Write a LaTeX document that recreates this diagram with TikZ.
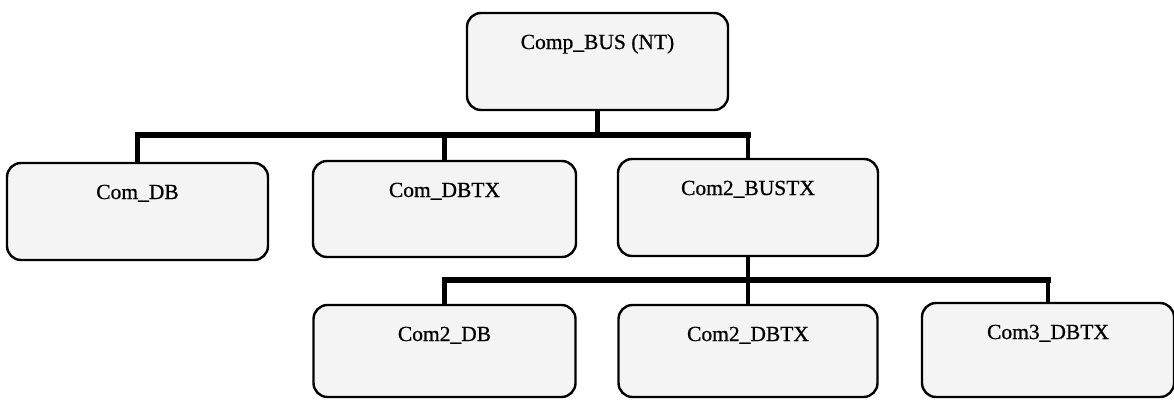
\documentclass[tikz,border=0pt]{standalone}
\usepackage{fontspec}
\setmainfont{Liberation Serif}[FakeBold=0.7]
\definecolor{boxfill}{gray}{0.955}
\tikzset{
  unitbox/.style={draw=black, line width=2.4pt, rounded corners=14pt, fill=boxfill,
    inner sep=0pt, text height=36pt, font=\fontsize{21.5}{24}\selectfont},
  busline/.style={line width=6pt, black},
  stemline/.style={line width=4.4pt, black}
}
\begin{document}
\begin{tikzpicture}[x=1pt, y=-1pt]
  \useasboundingbox[fill=white] (0,0) rectangle (1174,399);

  % levels of the tree
  \node[unitbox, minimum width=261pt, text depth=61pt] (root) at (597.5,61.5) {Comp\_BUS (NT)};

  \node[unitbox, minimum width=261pt, text depth=61pt] (comdb)   at (137.5,211.5) {Com\_DB};
  \node[unitbox, minimum width=263pt, text depth=60pt] (comdbtx) at (444.5,209)   {Com\_DBTX};
  \node[unitbox, minimum width=260pt, text depth=61pt] (bustx)   at (748,207.5)   {Com2\_BUSTX};

  \node[unitbox, minimum width=262pt, text depth=56pt] (db2)    at (444.5,351) {Com2\_DB};
  \node[unitbox, minimum width=259pt, text depth=56pt] (dbtx2)  at (748,351)   {Com2\_DBTX};
  \node[unitbox, minimum width=252pt, text depth=58pt] (dbtx3)  at (1048,350)  {Com3\_DBTX};

  % bus heights
  \coordinate (busA) at (0,135);
  \coordinate (busB) at (0,280);

  % upper bus
  \draw[busline] ([xshift=-2.5pt]comdb.north |- busA) -- ([xshift=2.5pt]bustx.north |- busA);
  \draw[stemline] (root.south) -- (root.south |- busA);
  \draw[stemline] (comdb.north) -- (comdb.north |- busA);
  \draw[stemline] (comdbtx.north) -- (comdbtx.north |- busA);
  \draw[stemline] (bustx.north) -- (bustx.north |- busA);

  % lower bus
  \draw[busline] ([xshift=-2.5pt]db2.north |- busB) -- ([xshift=2.5pt]dbtx3.north |- busB);
  \draw[stemline] (bustx.south) -- (dbtx2.north);
  \draw[stemline] (db2.north) -- (db2.north |- busB);
  \draw[stemline] (dbtx3.north) -- (dbtx3.north |- busB);
\end{tikzpicture}
\end{document}
